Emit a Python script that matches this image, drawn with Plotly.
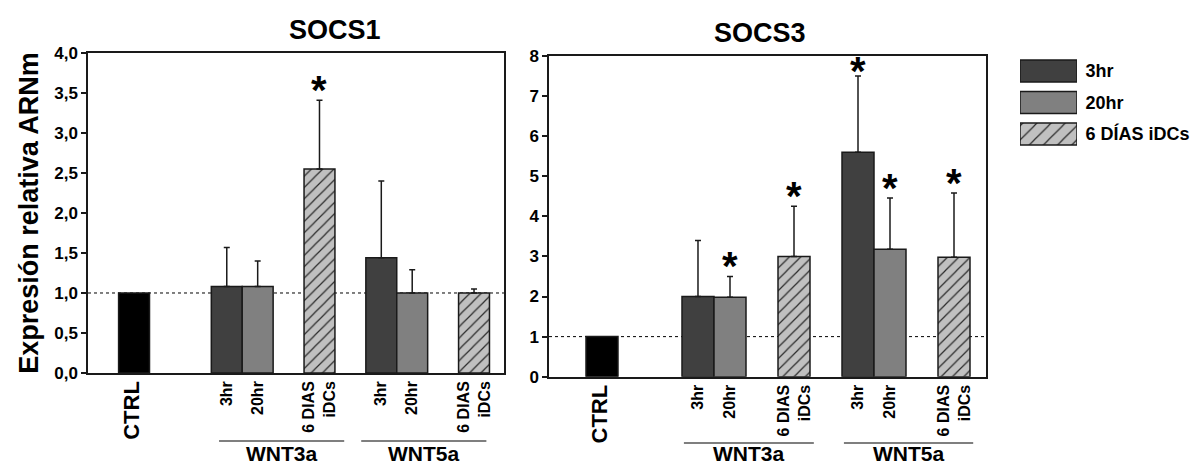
import plotly.graph_objects as go

# ---------------- data ----------------
groups = ["WNT3a", "WNT5a"]
series_names = ["3hr", "20hr", "6 DÍAS iDCs"]
tick_labels = ["CTRL", "3hr", "20hr", "6 DIAS<br>iDCs", "3hr", "20hr", "6 DIAS<br>iDCs"]
socs1_yticks = [0.0, 0.5, 1.0, 1.5, 2.0, 2.5, 3.0, 3.5, 4.0]
socs3_yticks = [0, 1, 2, 3, 4, 5, 6, 7, 8]

# SOCS1 (relative mRNA expression)
socs1_ctrl = 1.0
socs1_3hr = [1.08, 1.44]
socs1_3hr_err = [0.49, 0.96]
socs1_3hr_sig = [False, False]
socs1_20hr = [1.08, 1.00]
socs1_20hr_err = [0.32, 0.29]
socs1_20hr_sig = [False, False]
socs1_6d = [2.55, 1.00]
socs1_6d_err = [0.86, 0.05]
socs1_6d_sig = [True, False]

# SOCS3
socs3_ctrl = 1.0
socs3_3hr = [2.00, 5.60]
socs3_3hr_err = [1.40, 1.90]
socs3_3hr_sig = [False, True]
socs3_20hr = [1.98, 3.18]
socs3_20hr_err = [0.52, 1.28]
socs3_20hr_sig = [True, True]
socs3_6d = [3.00, 2.98]
socs3_6d_err = [1.25, 1.60]
socs3_6d_sig = [True, True]

# ---------------- layout / style ----------------
FONT = "Liberation Sans, Arial, Helvetica, sans-serif"
ctrl_slot = 0
slots = {"3hr": [3, 8], "20hr": [4, 9], "6d": [6, 11]}
tick_slots = [0, 3, 4, 6, 8, 9, 11]
colors = {"ctrl": "#000000", "3hr": "#404040", "20hr": "#808080", "6d": "#c0c0c0"}
OUTLINE = dict(color="#1a1a1a", width=1.5)
HATCH = dict(shape="/", fgcolor="#2a2a2a", bgcolor="#c0c0c0", size=8, solidity=0.15, fillmode="replace")
STAR_GAP_PX = 14      # star centre above error-bar top
STAR_TOP_PX = 11      # keep star centre this far below the frame top

fig = go.Figure()
annotations = []
shapes = []


def err_bar(arr):
    return dict(type="data", symmetric=False, array=arr, arrayminus=[0] * len(arr),
                color="#1a1a1a", thickness=1.5, width=3)


def add_panel(xa, ya, ctrl, data, ymax, px_per_unit):
    fig.add_trace(go.Bar(x=[ctrl_slot], y=[ctrl], width=1, showlegend=False,
                         marker=dict(color=colors["ctrl"], line=OUTLINE),
                         xaxis=xa, yaxis=ya, hoverinfo="y"))
    for key, (vals, errs, sig) in data.items():
        marker = dict(color=colors[key], line=OUTLINE)
        if key == "6d":
            marker["pattern"] = HATCH
        fig.add_trace(go.Bar(x=slots[key], y=vals, width=1, showlegend=False,
                             marker=marker, error_y=err_bar(errs),
                             xaxis=xa, yaxis=ya, hoverinfo="y"))
        for xs, v, e, s in zip(slots[key], vals, errs, sig):
            if s:
                ys = min(v + e + STAR_GAP_PX / px_per_unit, ymax - STAR_TOP_PX / px_per_unit)
                annotations.append(dict(x=xs, y=ys, xref=xa, yref=ya, text="<b>*</b>",
                                        showarrow=False, yanchor="middle", yshift=-4,
                                        font=dict(family=FONT, size=40, color="#000")))
    # reference dotted line at 1
    shapes.append(dict(type="line", xref=xa + " domain", yref=ya, x0=0, x1=1, y0=1, y1=1,
                       line=dict(color="#000", width=1, dash="dot"), layer="below"))


add_panel("x", "y", socs1_ctrl, {
    "3hr": (socs1_3hr, socs1_3hr_err, socs1_3hr_sig),
    "20hr": (socs1_20hr, socs1_20hr_err, socs1_20hr_sig),
    "6d": (socs1_6d, socs1_6d_err, socs1_6d_sig),
}, ymax=4, px_per_unit=80)
add_panel("x2", "y2", socs3_ctrl, {
    "3hr": (socs3_3hr, socs3_3hr_err, socs3_3hr_sig),
    "20hr": (socs3_20hr, socs3_20hr_err, socs3_20hr_sig),
    "6d": (socs3_6d, socs3_6d_err, socs3_6d_sig),
}, ymax=8, px_per_unit=40)

# group underlines and labels
group_spans = {"x": [(2.75, 6.8), (7.35, 11.4)], "x2": [(2.56, 6.62), (7.56, 11.6)]}
group_line_y = {"x": 0.0577, "x2": 0.0534}
for xa, spans in group_spans.items():
    for g, (a, b) in zip(groups, spans):
        shapes.append(dict(type="line", xref=xa, yref="paper", x0=a, x1=b,
                           y0=group_line_y[xa], y1=group_line_y[xa],
                           line=dict(color="#000", width=1.2)))
        annotations.append(dict(x=(a + b) / 2, y=0.031, xref=xa, yref="paper", text="<b>%s</b>" % g,
                                showarrow=False, yanchor="middle", borderpad=0,
                                font=dict(family=FONT, size=21, color="#000")))

# panel titles
annotations.append(dict(x=287 / 1200, y=0.936, xref="paper", yref="paper", text="<b>SOCS1</b>",
                        showarrow=False, yanchor="middle", font=dict(family=FONT, size=27, color="#000")))
annotations.append(dict(x=760 / 1200, y=0.929, xref="paper", yref="paper", text="<b>SOCS3</b>",
                        showarrow=False, yanchor="middle", font=dict(family=FONT, size=27, color="#000")))

# legend drawn as a small swatch axis
for name, key in zip(series_names, ["3hr", "20hr", "6d"]):
    marker = dict(color=colors[key], line=OUTLINE)
    if key == "6d":
        marker["pattern"] = dict(shape="/", fgcolor="#2a2a2a", bgcolor="#c0c0c0", size=10,
                                 solidity=0.12, fillmode="replace")
    fig.add_trace(go.Bar(x=[1], y=[name], orientation="h", width=0.7, showlegend=False,
                         marker=marker, xaxis="x3", yaxis="y3", hoverinfo="y"))

tick_text = [("<b style='font-size:22px'>%s</b>" % t) if t == "CTRL" else "<b>%s</b>" % t.replace("<br>", "</b><br><b>")
             for t in tick_labels]
socs1_ytext = ["<b>%s</b>" % ("%.1f" % v).replace(".", ",") for v in socs1_yticks]
socs3_ytext = ["<b>%d</b>" % v for v in socs3_yticks]

axis_common = dict(showline=True, linecolor="#1a1a1a", linewidth=1.5, mirror=True,
                   showgrid=False, zeroline=False, automargin=False)
xcommon = dict(axis_common, tickmode="array", tickvals=tick_slots, ticktext=tick_text,
               tickangle=-90, ticks="",
               tickfont=dict(family=FONT, size=16, color="#000"))
ycommon = dict(axis_common, ticks="outside", ticklen=5, tickwidth=1.5, tickcolor="#1a1a1a",
               tickmode="array", tickfont=dict(family=FONT, size=17, color="#000"))

fig.update_layout(
    template="none",
    width=1200, height=468,
    margin=dict(l=0, r=0, t=0, b=0, autoexpand=False),
    paper_bgcolor="white", plot_bgcolor="white",
    barmode="overlay",
    font=dict(family=FONT, color="#000"),
    xaxis=dict(xcommon, domain=[88 / 1200, 504 / 1200], range=[-1.49, 11.97], anchor="y"),
    yaxis=dict(ycommon, domain=[0.2030, 0.8868], range=[0, 4], tickvals=socs1_yticks,
               ticktext=socs1_ytext, anchor="x",
               title=dict(text="<b>Expresión relativa ARNm</b>", standoff=8,
                          font=dict(family=FONT, size=27, color="#000"))),
    xaxis2=dict(xcommon, domain=[549 / 1200, 986 / 1200], range=[-1.656, 12.0], anchor="y2"),
    yaxis2=dict(ycommon, domain=[0.1951, 0.8803], range=[0, 8], tickvals=socs3_yticks,
                ticktext=socs3_ytext, anchor="x2"),
    xaxis3=dict(domain=[1020 / 1200, 1077 / 1200], range=[0, 1], visible=False, anchor="y3",
                fixedrange=True, automargin=False),
    yaxis3=dict(domain=[0.680, 0.882], anchor="x3", side="right", type="category",
                categoryorder="array", categoryarray=series_names, autorange="reversed",
                showline=False, showgrid=False, zeroline=False, ticks="outside", ticklen=4,
                tickcolor="rgba(0,0,0,0)", automargin=False,
                tickmode="array", tickvals=series_names,
                ticktext=["<b>%s</b>" % s for s in series_names],
                tickfont=dict(family=FONT, size=18, color="#000")),
    annotations=annotations,
    shapes=shapes,
)

fig.write_html("out.html", config={"displayModeBar": False},
               post_script="document.body.style.margin='0';document.body.style.overflow='hidden';")
